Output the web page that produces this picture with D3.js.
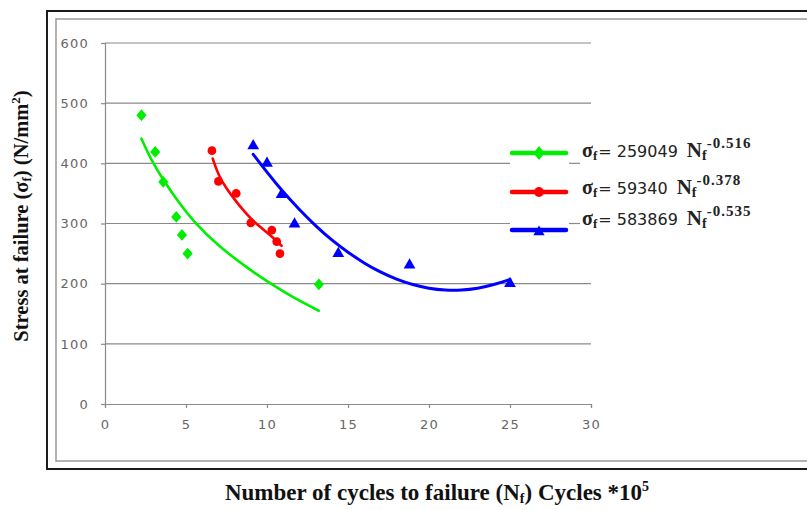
<!DOCTYPE html>
<html>
<head>
<meta charset="utf-8">
<script src="https://cdn.jsdelivr.net/npm/d3@7"></script>
<style>
  body { margin:0; background:#fff; }
  svg { display:block; }
</style>
</head>
<body>
<svg id="chart" width="807" height="510"></svg>
<script>
// ---- data ----
var xTicks = [0, 5, 10, 15, 20, 25, 30];
var yTicks = [0, 100, 200, 300, 400, 500, 600];

var greenX = [2.25, 3.1, 3.6, 4.4, 4.75, 5.1, 13.2];
var greenY = [480, 419, 369, 311, 281, 250, 199];
var redX = [6.6, 7.0, 8.1, 9.0, 10.3, 10.6, 10.8];
var redY = [421, 370, 350, 301, 289, 270, 250];
var blueX = [9.15, 10.0, 10.9, 11.7, 14.4, 18.8, 25.0];
var blueY = [429, 400, 348, 299, 250, 231, 200];

// trendlines, as drawn (points picked along each curve)
var greenTrendX = [2.25, 2.8, 3.6, 4.6, 5.5, 7.0, 9.0, 10.1, 11.6, 13.2];
var greenTrendY = [441, 408, 372, 333, 302, 262, 222, 202, 177, 155];
var redTrendX = [6.65, 7.0, 7.5, 8.0, 8.5, 9.0, 9.5, 10.2, 10.9];
var redTrendY = [408, 380, 358, 340, 323, 308, 296, 281, 263];
var blueTrendX = [9.15, 10, 11, 12, 13, 14, 15, 16, 17, 18, 19, 20, 21, 22, 23, 24, 25];
var blueTrendY = [415, 385, 352, 323, 296, 272, 252, 234, 219, 207, 198, 192, 189, 189, 192, 198, 207];

var legendCoef = ["259049", "59340", "583869"];
var legendExp = ["-0.516", "-0.378", "-0.535"];
var colors = ["#00ee00", "#ff0000", "#0000ff"];

var svg = d3.select("#chart");
var serif = "Liberation Serif, Times New Roman, serif";
var sans = "DejaVu Sans, Verdana, sans-serif";

// frames
svg.append("rect").attr("x", 47).attr("y", 11).attr("width", 800).attr("height", 458)
    .attr("fill", "none").attr("stroke", "#1a1a1a").attr("stroke-width", 2);
svg.append("rect").attr("x", 56).attr("y", 19).attr("width", 800).attr("height", 442)
    .attr("fill", "none").attr("stroke", "#9a9a9a").attr("stroke-width", 1.5);

var x = d3.scaleLinear().domain([0, 30]).range([105, 591]);
var y = d3.scaleLinear().domain([0, 600]).range([404, 43]);

// gridlines
svg.append("g").selectAll("line").data(yTicks.slice(1)).enter().append("line")
    .attr("x1", x(0)).attr("x2", x(30))
    .attr("y1", function (d) { return y(d); }).attr("y2", function (d) { return y(d); })
    .attr("stroke", "#8a8a8a").attr("stroke-width", 1.2);

// axes
var xAxis = svg.append("g").attr("transform", "translate(0," + y(0) + ")")
    .call(d3.axisBottom(x).tickValues(xTicks).tickSize(4).tickPadding(12));
var yAxis = svg.append("g").attr("transform", "translate(" + x(0) + ",0)")
    .call(d3.axisLeft(y).tickValues(yTicks).tickSize(4).tickPadding(12));
[xAxis, yAxis].forEach(function (a) {
    a.selectAll("path, line").attr("stroke", "#8a8a8a").attr("stroke-width", 1.2);
    a.selectAll("text").attr("fill", "#666").attr("font-family", sans)
        .attr("font-size", 13).attr("letter-spacing", 1.2);
});

// trendlines
var line = d3.line().curve(d3.curveBasis)
    .x(function (d) { return x(d[0]); }).y(function (d) { return y(d[1]); });
var trends = [
    d3.zip(greenTrendX, greenTrendY),
    d3.zip(redTrendX, redTrendY),
    d3.zip(blueTrendX, blueTrendY)
];
trends.forEach(function (t, i) {
    svg.append("path").datum(t).attr("d", line).attr("fill", "none")
        .attr("stroke", colors[i]).attr("stroke-width", i == 2 ? 3 : 2.6)
        .attr("stroke-linecap", "round");
});

// markers
var sym = [d3.symbolDiamond, d3.symbolCircle, d3.symbolTriangle];
var symSize = [40, 60, 60];
var series = [d3.zip(greenX, greenY), d3.zip(redX, redY), d3.zip(blueX, blueY)];
series.forEach(function (s, i) {
    svg.append("g").selectAll("path").data(s).enter().append("path")
        .attr("d", d3.symbol().type(sym[i]).size(symSize[i]))
        .attr("transform", function (d) {
            return "translate(" + x(d[0]) + "," + y(d[1]) + ")" + (i == 0 ? " scale(1.5,1)" : "");
        })
        .attr("fill", colors[i]);
});

// legend box
svg.append("rect").attr("x", 510).attr("y", 132).attr("width", 290).attr("height", 110).attr("fill", "#fff");
[400, 300].forEach(function (v) {
    svg.append("line").attr("x1", 569).attr("x2", 580).attr("y1", y(v)).attr("y2", y(v))
        .attr("stroke", "#8a8a8a").attr("stroke-width", 1.2);
});

var lineY = [153, 192, 230];
var textY = [157, 194, 225];
legendCoef.forEach(function (c, i) {
    svg.append("line").attr("x1", 512).attr("x2", 566).attr("y1", lineY[i]).attr("y2", lineY[i])
        .attr("stroke", colors[i]).attr("stroke-width", 4.5).attr("stroke-linecap", "round");
    svg.append("path").attr("d", d3.symbol().type(sym[i]).size(i == 1 ? 75 : 55))
        .attr("transform", "translate(539," + (lineY[i] + (i == 2 ? 2 : 0)) + ")" + (i == 0 ? " scale(1.4,1)" : ""))
        .attr("fill", colors[i]);
    var t = svg.append("text").attr("x", 582).attr("y", textY[i]).attr("fill", "#222");
    t.append("tspan").attr("font-family", serif)
        .attr("font-weight", "bold").attr("font-size", 20).text("σ");
    t.append("tspan").attr("font-family", serif)
        .attr("font-weight", "bold").attr("font-size", 13).attr("dy", 3).text("f");
    t.append("tspan").attr("font-family", sans)
        .attr("font-size", 16).attr("dy", -3).attr("dx", 1).text("= " + c);
    t.append("tspan").attr("font-family", serif)
        .attr("font-weight", "bold").attr("font-size", 21).attr("dx", 9).text("N");
    t.append("tspan").attr("font-family", serif)
        .attr("font-weight", "bold").attr("font-size", 14).attr("dy", 3).text("f");
    t.append("tspan").attr("font-family", serif)
        .attr("font-weight", "bold").attr("font-size", 15).attr("dy", -12).attr("letter-spacing", 1).text(legendExp[i]);
});

// axis titles
var yt = svg.append("text").attr("transform", "translate(28,216) rotate(-90)")
    .attr("text-anchor", "middle").attr("font-family", serif)
    .attr("font-weight", "bold").attr("font-size", 20.5).attr("fill", "#111");
yt.append("tspan").text("Stress at failure (σ");
yt.append("tspan").attr("font-size", 13).attr("dy", 3).text("f");
yt.append("tspan").attr("dy", -3).text(") (N/mm");
yt.append("tspan").attr("font-size", 13).attr("dy", -8).text("2");
yt.append("tspan").attr("dy", 8).text(")");

var xt = svg.append("text").attr("x", 437).attr("y", 500)
    .attr("text-anchor", "middle").attr("font-family", serif)
    .attr("font-weight", "bold").attr("font-size", 23).attr("fill", "#111");
xt.append("tspan").text("Number of cycles to failure (N");
xt.append("tspan").attr("font-size", 14).attr("dy", 3).text("f");
xt.append("tspan").attr("dy", -3).text(") Cycles *10");
xt.append("tspan").attr("font-size", 14).attr("dy", -9).text("5");
</script>
</body>
</html>
